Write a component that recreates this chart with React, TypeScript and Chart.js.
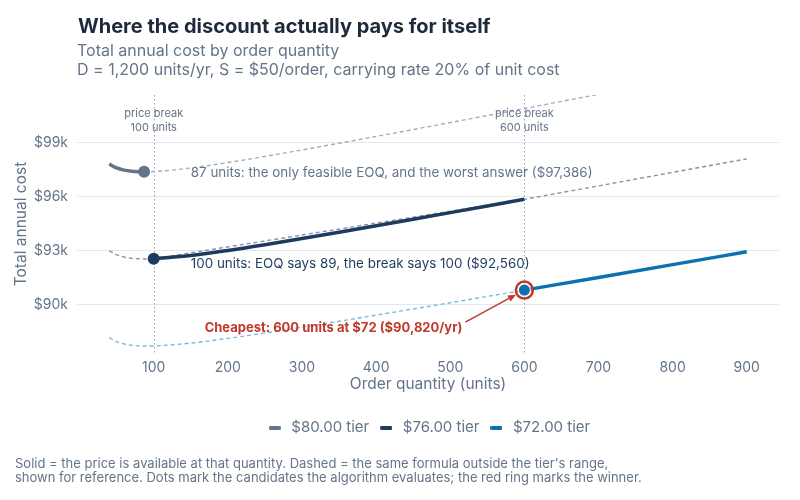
import React, { useEffect, useRef } from 'react';
import { Chart, registerables } from 'chart.js';

Chart.register(...registerables);

// Annual total cost TC(Q) = D·P + D·S/Q + Q·(0.2·P)/2, sampled per price tier.
const tierLabels = ['$80.00 tier', '$76.00 tier', '$72.00 tier'];
const tierColors = ['#64748b', '#1e3a5f', '#0b72ad'];
const refColors = ['#a3aec0', '#8593a8', '#7db8db'];
const winnerRed = '#c0392b';

// $80 tier (feasible below 100 units)
const q80Solid = [40, 50, 60, 70, 80, 87];
const cost80Solid = [97820, 97600, 97480, 97417, 97390, 97386];
const q80Ref = [87, 100, 150, 200, 300, 400, 500, 600, 700];
const cost80Ref = [97386, 97400, 97600, 97900, 98600, 99350, 100120, 100900, 101686];

// $76 tier (feasible 100 to 599 units)
const q76Solid = [100, 150, 200, 250, 300, 350, 400, 450, 500, 550, 600];
const cost76Solid = [92560, 92740, 93020, 93340, 93680, 94031, 94390, 94753, 95120, 95489, 95860];
const q76Ref = [40, 50, 60, 70, 80, 89, 100, 600, 700, 800, 900];
const cost76Ref = [93004, 92780, 92656, 92589, 92558, 92551, 92560, 95860, 96606, 97355, 98107];

// $72 tier (feasible from 600 units)
const q72Solid = [600, 700, 800, 900];
const cost72Solid = [90820, 91526, 92235, 92947];
const q72Ref = [40, 50, 60, 70, 80, 91, 100, 150, 200, 250, 300, 350, 400, 450, 500, 550, 600];
const cost72Ref = [88188, 87960, 87832, 87761, 87726, 87715, 87720, 87880, 88140, 88440, 88760, 89091, 89430, 89773, 90120, 90469, 90820];

// Candidates evaluated by the algorithm; the last one wins.
const candidateQty = [87, 100, 600];
const candidateCost = [97386, 92560, 90820];
const winnerIndex = 2;

const breakQty = [100, 600];
const breakLabels = [
  ['price break', '100 units'],
  ['price break', '600 units'],
];

const xTicks = [100, 200, 300, 400, 500, 600, 700, 800, 900];
const yTicks = [90000, 93000, 96000, 99000];

const titleText = 'Where the discount actually pays for itself';
const subtitleLines = [
  'Total annual cost by order quantity',
  'D = 1,200 units/yr, S = $50/order, carrying rate 20% of unit cost',
];
const footerLines = [
  "Solid = the price is available at that quantity. Dashed = the same formula outside the tier's range,",
  'shown for reference. Dots mark the candidates the algorithm evaluates; the red ring marks the winner.',
];
const note80 = '87 units: the only feasible EOQ, and the worst answer ($97,386)';
const note76 = '100 units: EOQ says 89, the break says 100 ($92,560)';
const noteWinner = 'Cheapest: 600 units at $72 ($90,820/yr)';
const noteAnchorQty = 150;

const FONT = 'Inter, "Noto Sans", sans-serif';
const muted = '#64748b';

const pts = (qs: number[], cs: number[]) => qs.map((q, i) => ({ x: q, y: cs[i] }));

const notesPlugin = {
  id: 'eoqNotes',
  beforeDatasetsDraw(chart: any) {
    const { ctx, chartArea, scales } = chart;
    ctx.save();
    ctx.strokeStyle = '#94a3b8';
    ctx.lineWidth = 1;
    ctx.setLineDash([1.5, 2.5]);
    breakQty.forEach((q) => {
      const px = Math.round(scales.x.getPixelForValue(q)) + 0.5;
      ctx.beginPath();
      ctx.moveTo(px, chartArea.top);
      ctx.lineTo(px, chartArea.bottom);
      ctx.stroke();
    });
    ctx.restore();
  },
  afterDatasetsDraw(chart: any) {
    const { ctx, chartArea, scales } = chart;
    const { x, y } = scales;
    ctx.save();
    ctx.textBaseline = 'middle';

    ctx.font = `11px ${FONT}`;
    ctx.fillStyle = muted;
    ctx.textAlign = 'center';
    breakQty.forEach((q, i) => {
      const px = x.getPixelForValue(q);
      ctx.fillText(breakLabels[i][0], px, chartArea.top + 19);
      ctx.fillText(breakLabels[i][1], px, chartArea.top + 33);
    });

    const tx = x.getPixelForValue(noteAnchorQty);
    ctx.textAlign = 'left';
    ctx.font = `13.4px ${FONT}`;
    ctx.fillStyle = muted;
    ctx.fillText(note80, tx, y.getPixelForValue(candidateCost[0]) + 1);
    ctx.fillStyle = tierColors[1];
    ctx.fillText(note76, tx, y.getPixelForValue(candidateCost[1]) + 5);

    const wx = x.getPixelForValue(candidateQty[winnerIndex]);
    const wy = y.getPixelForValue(candidateCost[winnerIndex]);
    ctx.font = `bold 13px ${FONT}`;
    ctx.fillStyle = winnerRed;
    ctx.textAlign = 'right';
    ctx.fillText(noteWinner, wx - 62, wy + 38);

    // arrow from the label to the ring
    const sx = wx - 59;
    const sy = wy + 32;
    const dx = wx - sx;
    const dy = wy - sy;
    const len = Math.hypot(dx, dy);
    const ux = dx / len;
    const uy = dy / len;
    const ex = wx - ux * 9.5;
    const ey = wy - uy * 9.5;
    const head = 8;
    const bx = ex - ux * head;
    const by = ey - uy * head;
    ctx.strokeStyle = winnerRed;
    ctx.lineWidth = 1.5;
    ctx.beginPath();
    ctx.moveTo(sx, sy);
    ctx.lineTo(bx, by);
    ctx.stroke();
    ctx.beginPath();
    ctx.moveTo(ex, ey);
    ctx.lineTo(bx - uy * 3.5, by + ux * 3.5);
    ctx.lineTo(bx + uy * 3.5, by - ux * 3.5);
    ctx.closePath();
    ctx.fillStyle = winnerRed;
    ctx.fill();
    ctx.restore();
  },
  afterDraw(chart: any) {
    const { ctx } = chart;
    ctx.save();
    ctx.textAlign = 'left';
    ctx.textBaseline = 'middle';
    ctx.fillStyle = '#1e293b';
    ctx.font = `bold 20px ${FONT}`;
    ctx.fillText(titleText, 78, 27);
    ctx.fillStyle = muted;
    ctx.font = `16px ${FONT}`;
    ctx.fillText(subtitleLines[0], 77, 51);
    ctx.fillText(subtitleLines[1], 77, 70);
    ctx.font = `13px ${FONT}`;
    ctx.fillText(footerLines[0], 15, 464);
    ctx.fillText(footerLines[1], 15, 478);
    ctx.restore();
  },
};

function makeMarker(color: string) {
  const c = document.createElement('canvas');
  c.width = 12;
  c.height = 4;
  const g = c.getContext('2d')!;
  g.fillStyle = color;
  g.beginPath();
  (g as any).roundRect(0, 0, 12, 4, 1.5);
  g.fill();
  return c;
}

export default function App() {
  const canvasRef = useRef<HTMLCanvasElement | null>(null);

  useEffect(() => {
    if (!canvasRef.current) return;
    const markers = tierColors.map(makeMarker);
    const solid = (i: number, data: any[]) => ({
      label: tierLabels[i],
      data,
      borderColor: tierColors[i],
      backgroundColor: tierColors[i],
      borderWidth: 3.5,
      pointRadius: 0,
      cubicInterpolationMode: 'monotone' as const,
      fill: false,
    });
    const ref = (i: number, data: any[], smooth: boolean) => ({
      label: tierLabels[i] + ' (reference)',
      data,
      borderColor: refColors[i],
      borderWidth: 1.4,
      borderDash: [4, 3],
      pointRadius: 0,
      tension: 0,
      cubicInterpolationMode: smooth ? ('monotone' as const) : ('default' as const),
      fill: false,
    });

    const chart = new Chart(canvasRef.current, {
      type: 'line',
      data: {
        datasets: [
          {
            label: 'candidates',
            data: pts(candidateQty, candidateCost),
            showLine: false,
            pointRadius: 6,
            pointBackgroundColor: tierColors,
            pointBorderColor: '#ffffff',
            pointBorderWidth: candidateQty.map((_, i) => (i === winnerIndex ? 1 : 0)),
          },
          {
            label: 'winner',
            data: [{ x: candidateQty[winnerIndex], y: candidateCost[winnerIndex] }],
            showLine: false,
            pointRadius: 8.5,
            pointBackgroundColor: 'rgba(0,0,0,0)',
            pointBorderColor: winnerRed,
            pointBorderWidth: 2.5,
          },
          solid(0, pts(q80Solid, cost80Solid)),
          solid(1, pts(q76Solid, cost76Solid)),
          solid(2, pts(q72Solid, cost72Solid)),
          ref(0, pts(q80Ref, cost80Ref), true),
          ref(1, pts(q76Ref, cost76Ref), false),
          ref(2, pts(q72Ref, cost72Ref), true),
        ] as any,
      },
      options: {
        animation: false,
        responsive: false,
        events: [],
        layout: { padding: { left: 0, right: 21, top: 95, bottom: 55 } },
        scales: {
          x: {
            type: 'linear',
            min: -3.5,
            max: 943.5,
            afterFit: (s: any) => {
              s.height = 59;
            },
            afterBuildTicks: (s: any) => {
              s.ticks = xTicks.map((v) => ({ value: v }));
            },
            grid: { display: false, drawTicks: false },
            border: { display: false },
            ticks: {
              padding: 6,
              color: muted,
              font: { family: FONT, size: 14 },
              callback: (v: any) => String(v),
            },
            title: {
              display: true,
              text: 'Order quantity (units)',
              color: muted,
              font: { family: FONT, size: 15.5 },
              padding: { top: 0, bottom: 18 },
            },
          },
          y: {
            type: 'linear',
            min: 87330,
            max: 101650,
            afterFit: (s: any) => {
              s.width = 77;
            },
            afterBuildTicks: (s: any) => {
              s.ticks = yTicks.map((v) => ({ value: v }));
            },
            grid: { color: '#e2e8f0', lineWidth: 1, drawTicks: false },
            border: { display: false },
            ticks: {
              padding: 9,
              color: muted,
              font: { family: FONT, size: 14 },
              callback: (v: any) => `$${Math.round(Number(v) / 1000)}k`,
            },
            title: {
              display: true,
              text: 'Total annual cost',
              color: muted,
              font: { family: FONT, size: 15.5 },
              padding: { top: 12, bottom: 0 },
            },
          },
        },
        plugins: {
          tooltip: { enabled: false },
          legend: {
            position: 'bottom',
            fullSize: false,
            labels: {
              usePointStyle: true,
              pointStyleWidth: 18,
              padding: 8,
              color: muted,
              font: { family: FONT, size: 15 },
              generateLabels: () =>
                tierLabels.map((t, i) => ({
                  text: t,
                  fillStyle: tierColors[i],
                  strokeStyle: tierColors[i],
                  lineWidth: 0,
                  pointStyle: markers[i] as any,
                  hidden: false,
                  datasetIndex: 2 + i,
                  fontColor: muted,
                })),
            },
          },
        },
      },
      plugins: [notesPlugin],
    });
    return () => chart.destroy();
  }, []);

  return (
    <div style={{ position: 'absolute', left: 0, top: 0, width: 800, height: 500, background: '#ffffff' }}>
      <canvas ref={canvasRef} width={800} height={500} style={{ display: 'block' }} />
    </div>
  );
}
